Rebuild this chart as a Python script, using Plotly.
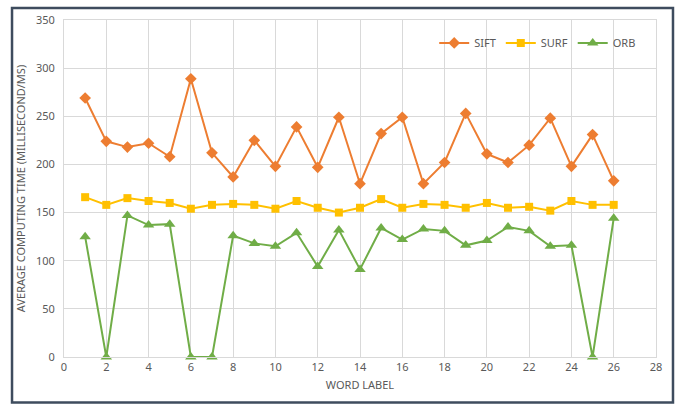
import plotly.graph_objects as go

# Word labels and average computing time per descriptor (ms)
word_label = list(range(1, 27))
sift = [269, 224, 218, 222, 208, 289, 212, 187, 225, 198, 239, 197, 249,
        180, 232, 249, 180, 202, 253, 211, 202, 220, 248, 198, 231, 183]
surf = [166, 158, 165, 162, 160, 154, 158, 159, 158, 154, 162, 155, 150,
        155, 164, 155, 159, 158, 155, 160, 155, 156, 152, 162, 158, 158]
orb = [125, 0, 147, 137, 138, 0, 0, 126, 118, 115, 129, 94, 132,
       91, 134, 122, 133, 131, 116, 121, 135, 131, 115, 116, 0, 144]

x_ticks = list(range(0, 29, 2))
y_ticks = list(range(0, 351, 50))

font_family = "Noto Sans, Liberation Sans, sans-serif"
text_color = "#595959"
grid_color = "#D9D9D9"

fig = go.Figure()
fig.add_trace(go.Scatter(
    x=word_label, y=sift, name="SIFT", mode="lines+markers", cliponaxis=False,
    line=dict(color="#ED7D31", width=2),
    marker=dict(symbol="diamond", size=9, color="#ED7D31"),
))
fig.add_trace(go.Scatter(
    x=word_label, y=surf, name="SURF", mode="lines+markers", cliponaxis=False,
    line=dict(color="#FFC000", width=2),
    marker=dict(symbol="square", size=8, color="#FFC000"),
))
fig.add_trace(go.Scatter(
    x=word_label, y=orb, name="ORB", mode="lines+markers", cliponaxis=False,
    line=dict(color="#70AD47", width=2),
    marker=dict(symbol="triangle-up", size=10, color="#70AD47"),
))

fig.update_layout(
    width=677, height=407,
    margin=dict(l=64, r=21, t=17, b=50),
    paper_bgcolor="white", plot_bgcolor="white",
    font=dict(family=font_family, size=11, color=text_color),
    showlegend=True,
    legend=dict(
        orientation="h", x=0.975, xanchor="right", y=0.932, yanchor="middle",
        font=dict(size=11, color=text_color), itemwidth=30,
        bgcolor="rgba(0,0,0,0)",
    ),
    xaxis=dict(
        range=[0, 28], tickmode="array", tickvals=x_ticks,
        showgrid=True, gridcolor=grid_color, gridwidth=1,
        zeroline=False, showline=True, linecolor=grid_color, mirror=True,
        ticks="", tickfont=dict(size=11, color=text_color),
        title=dict(text="WORD LABEL", font=dict(size=11, color=text_color), standoff=8),
    ),
    yaxis=dict(
        range=[0, 350], tickmode="array", tickvals=y_ticks,
        showgrid=True, gridcolor=grid_color, gridwidth=1,
        zeroline=False, showline=True, linecolor=grid_color, mirror=True,
        ticks="", ticklabelstandoff=6, tickfont=dict(size=11, color=text_color),
        title=dict(text="AVERAGE COMPUTING TIME (MILLISECOND/MS)",
                   font=dict(size=11, color=text_color), standoff=8),
    ),
    shapes=[dict(
        type="rect", xref="paper", yref="paper",
        x0=-0.0878, x1=1.0287, y0=-0.1353, y1=1.0353,
        line=dict(color="#3E4C5E", width=2.5), fillcolor="rgba(0,0,0,0)",
        layer="above",
    )],
)

fig.write_html("out.html")
